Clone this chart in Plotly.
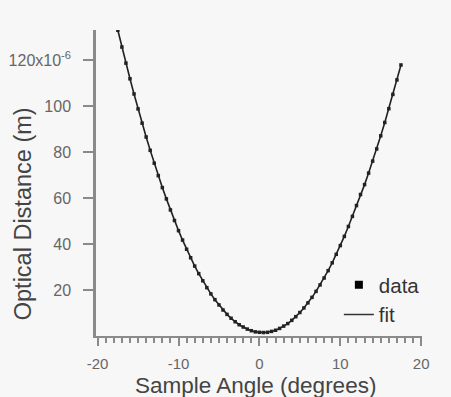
import plotly.graph_objects as go

# Sample angle (degrees)
angle = [-17.5, -17.0, -16.5, -16.0, -15.5, -15.0, -14.5, -14.0, -13.5, -13.0,
         -12.5, -12.0, -11.5, -11.0, -10.5, -10.0, -9.5, -9.0, -8.5, -8.0,
         -7.5, -7.0, -6.5, -6.0, -5.5, -5.0, -4.5, -4.0, -3.5, -3.0,
         -2.5, -2.0, -1.5, -1.0, -0.5, 0.0, 0.5, 1.0, 1.5, 2.0,
         2.5, 3.0, 3.5, 4.0, 4.5, 5.0, 5.5, 6.0, 6.5, 7.0,
         7.5, 8.0, 8.5, 9.0, 9.5, 10.0, 10.5, 11.0, 11.5, 12.0,
         12.5, 13.0, 13.5, 14.0, 14.5, 15.0, 15.5, 16.0, 16.5, 17.0, 17.5]

# Optical distance, micrometres
dist_um = [132.9, 125.6, 118.6, 111.8, 105.2, 98.7, 92.5, 86.5, 80.7, 75.1,
           69.7, 64.5, 59.6, 54.8, 50.2, 45.8, 41.7, 37.7, 34.0, 30.4,
           27.1, 24.0, 21.0, 18.3, 15.8, 13.5, 11.3, 9.4, 7.7, 6.2,
           4.9, 3.9, 3.0, 2.3, 1.8, 1.6, 1.5, 1.6, 2.0, 2.5,
           3.3, 4.3, 5.4, 6.8, 8.4, 10.2, 12.2, 14.4, 16.8, 19.4,
           22.2, 25.2, 28.4, 31.8, 35.5, 39.3, 43.3, 47.6, 52.0, 56.7,
           61.5, 65.8, 70.8, 76.0, 81.3, 87.0, 92.8, 98.8, 105.0, 111.3, 117.8]

y_ticks_um = [20, 40, 60, 80, 100, 120]
y_tick_text = ["20", "40", "60", "80", "100", "120x10<sup>-6</sup>"]
x_ticks = [-20, -10, 0, 10, 20]
x_tick_text = ["-20", "-10", "0", "10", "20"]

dist_m = [v * 1e-6 for v in dist_um]

INK = "#222222"
AXIS = "#8a8a8a"
BG = "#f7f7f7"
FONT = "Liberation Sans, Arial, sans-serif"

fig = go.Figure()
fig.add_trace(go.Scatter(x=angle, y=dist_m, mode="lines", name="fit",
                         line=dict(color=INK, width=1.6), showlegend=False))
fig.add_trace(go.Scatter(x=angle, y=dist_m, mode="markers", name="data",
                         marker=dict(symbol="square", size=3.5, color=INK),
                         showlegend=False))
# legend entries
fig.add_trace(go.Scatter(x=[None], y=[None], mode="markers", name="data",
                         marker=dict(symbol="square", size=8, color="#000")))
fig.add_trace(go.Scatter(x=[None], y=[None], mode="lines", name="fit",
                         line=dict(color="#333", width=1.5)))

fig.update_layout(
    width=451, height=397,
    margin=dict(l=96, r=29, t=30, b=61, autoexpand=False),
    paper_bgcolor=BG, plot_bgcolor=BG,
    font=dict(family=FONT, color="#333"),
    showlegend=True,
    legend=dict(x=0.745, y=0.232, xanchor="left", yanchor="top",
                bgcolor="rgba(0,0,0,0)", font=dict(size=20.5, color="#333"),
                tracegroupgap=0, itemwidth=30),
    xaxis=dict(range=[-20.2, 20.1], showgrid=False, zeroline=False,
               showline=True, linecolor=AXIS, linewidth=2,
               tickmode="array", tickvals=x_ticks, ticktext=x_tick_text,
               ticks="outside", ticklen=8, tickcolor=AXIS, tickwidth=1.5,
               ticklabelstandoff=5, automargin=False,
               tickfont=dict(size=15, color="#666"),
               minor=dict(dtick=1, ticks="outside", ticklen=5,
                          tickcolor=AXIS, tickwidth=1.5, showgrid=False)),
    yaxis=dict(range=[0, 133e-6], showgrid=False, zeroline=False,
               showline=True, linecolor=AXIS, linewidth=2.5,
               tickmode="array", tickvals=[v * 1e-6 for v in y_ticks_um],
               ticktext=y_tick_text,
               ticks="outside", ticklen=10, tickcolor=AXIS, tickwidth=1.5,
               ticklabelstandoff=9, automargin=False,
               tickfont=dict(size=16, color="#666")),
    annotations=[
        dict(text="Sample Angle (degrees)", x=0.49, y=-0.113,
             xref="paper", yref="paper", xanchor="center", yanchor="top",
             showarrow=False, font=dict(size=22.5, color="#444")),
        dict(text="Optical Distance (m)", x=-0.225, y=0.40,
             xref="paper", yref="paper", xanchor="center", yanchor="middle",
             textangle=-90, showarrow=False,
             font=dict(size=23.5, color="#444")),
    ],
)

fig.write_html("out.html", config={"displayModeBar": False},
               post_script="document.body.style.margin='0';")
